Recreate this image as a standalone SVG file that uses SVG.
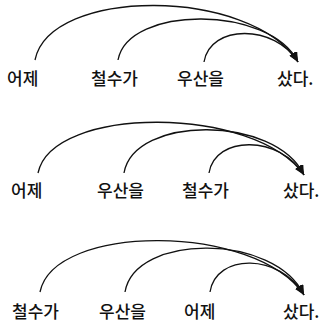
<svg xmlns="http://www.w3.org/2000/svg" width="323" height="327" viewBox="0 0 323 327">
<style>
text{font-family:"Noto Sans CJK KR","Noto Sans",sans-serif;font-size:17px;font-weight:500;fill:#111}
.arc{fill:none;stroke:#111;stroke-width:1.3;marker-end:url(#ah)}
</style>
<defs>
<marker id="ah" viewBox="0 0 10 8" refX="10" refY="4" markerWidth="10" markerHeight="8" markerUnits="userSpaceOnUse" orient="auto">
<path d="M0,0 L10,4 L0,8 Z" fill="#111"/>
</marker>
</defs>
<rect width="323" height="327" fill="#fff"/>
<g id="connectors">
<path class="arc" d="M35,60 C50,-13 250,-13 298,62"/>
<path class="arc" d="M118,60 C128,5 270,5 298,62"/>
<path class="arc" d="M204,62 C210,24 275,24 298,62"/>
<path class="arc" d="M38,173 C52,105 255,105 304,175"/>
<path class="arc" d="M124,173 C134,115 275,115 304,175"/>
<path class="arc" d="M209,173 C215,135 280,135 304,175"/>
<path class="arc" d="M40,292 C54,223 255,223 304,295"/>
<path class="arc" d="M125,292 C135,233 275,233 304,295"/>
<path class="arc" d="M210,292 C216,253 280,253 304,295"/>
</g>
<g id="r1-eoje"><text x="7" y="85">어제</text></g>
<g id="r1-cheolsuga"><text x="91" y="85">철수가</text></g>
<g id="r1-usaneul"><text x="177" y="85">우산을</text></g>
<g id="r1-satda"><text x="277" y="85">샀다.</text></g>
<g id="r2-eoje"><text x="11" y="197">어제</text></g>
<g id="r2-usaneul"><text x="97" y="197">우산을</text></g>
<g id="r2-cheolsuga"><text x="182" y="197">철수가</text></g>
<g id="r2-satda"><text x="283" y="197">샀다.</text></g>
<g id="r3-cheolsuga"><text x="12" y="318">철수가</text></g>
<g id="r3-usaneul"><text x="99" y="318">우산을</text></g>
<g id="r3-eoje"><text x="184" y="318">어제</text></g>
<g id="r3-satda"><text x="283" y="318">샀다.</text></g>
</svg>
